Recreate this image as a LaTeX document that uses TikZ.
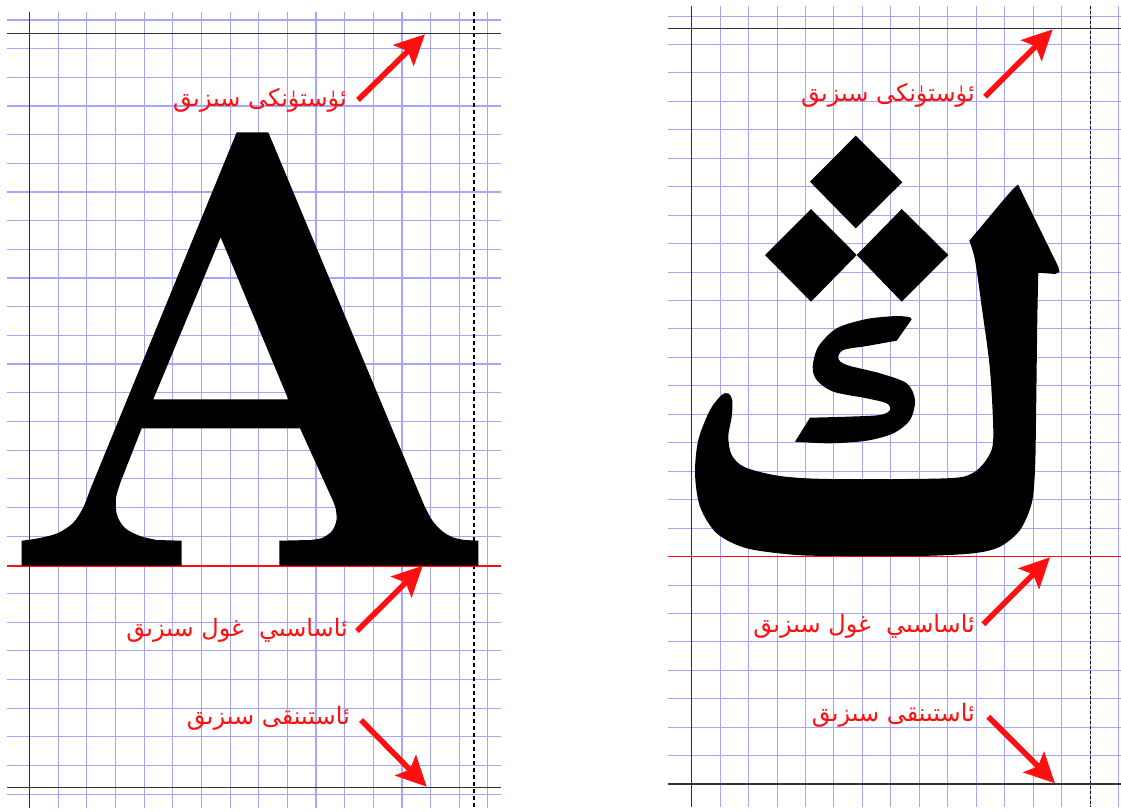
\documentclass[tikz,border=0pt]{standalone}
\usepackage{fontspec}
\usetikzlibrary{arrows.meta}
\TeXXeTstate=1
\newfontfamily\arabicfont[Script=Arabic]{DejaVu Sans}
\definecolor{gridblue}{RGB}{165,165,255}
\definecolor{lred}{RGB}{255,15,15}
\definecolor{guide}{RGB}{50,50,50}
\tikzset{
  gridline/.style={draw=gridblue, line width=1.1pt},
  guideline/.style={draw=guide, line width=1.3pt},
  baseline/.style={draw=lred, line width=1.4pt},
  dashguide/.style={draw=black, line width=1.6pt, dash pattern=on 4pt off 3pt},
  thindash/.style={draw=black, line width=0.9pt, dash pattern=on 3pt off 2pt},
  lab/.style={text=lred, font=\arabicfont\fontsize{24}{28}\selectfont, inner sep=0pt, anchor=east},
  redarrow/.style={draw=lred, line width=5.5pt, -{Stealth[length=30pt,width=29pt,inset=6pt]}},
  glyph/.style={fill=black, even odd rule}
}
\begin{document}
\begin{tikzpicture}[x=1pt,y=-1pt]
\useasboundingbox (0,0) rectangle (1121,811);
% ---------- left grid ----------
\foreach \k in {0,...,18,20,21,...,27} \draw[gridline] (7,{20+\k*28.67}) -- (501,{20+\k*28.67});
\foreach \k in {1,...,16} \draw[gridline] ({29.5+\k*28.65},12) -- ({29.5+\k*28.65},808);
\draw[guideline] (29.5,12) -- (29.5,808);
\draw[dashguide] (474,12) -- (474,808);
\draw[guideline] (7,33.7) -- (501,33.7);
\draw[guideline] (7,787.7) -- (501,787.7);
\draw[baseline] (7,566) -- (501,566);
% ---------- right grid ----------
\foreach \k in {0,...,18,20,21,...,26} \draw[gridline, line width=1pt] (668,{16+\k*28.45}) -- (1121,{16+\k*28.45});
\foreach \k in {1,...,15} \draw[gridline, line width=1pt] ({691.7+\k*28.45},6) -- ({691.7+\k*28.45},807);
\draw[guideline] (691.7,6) -- (691.7,807);
\draw[thindash] (1090,6) -- (1090,807);
\draw[guideline] (668,28.7) -- (1121,28.7);
\draw[guideline] (668,784) -- (1121,784);
\draw[baseline] (668,556.5) -- (1121,556.5);
% ---------- glyph A ----------
\fill[glyph] (236.7,132.3) -- (268.3,132.3) -- (423.3,503.3)
  -- plot[smooth] coordinates {(423.3,503.3) (432,520) (442,531) (453.3,537.5) (465,540)}
  -- (478.3,540.7) -- (478.3,565.5) -- (279.3,565.5) -- (279.3,540.7) -- (310,540)
  -- plot[smooth] coordinates {(310,540) (322,538) (332,531) (336.5,520) (335.5,508) (331.7,498)}
  -- (300,428.3) -- (141.7,428.3) -- (121,481)
  -- plot[smooth] coordinates {(121,481) (116,498) (117,515) (125,528) (140,536) (156.7,540)}
  -- (181.7,540.7) -- (181.7,565.5) -- (21.7,565.5) -- (21.7,540.7)
  -- plot[smooth] coordinates {(21.7,540.7) (40,538) (58,533) (73,523) (83,508) (90,490)}
  -- cycle
  (220.7,237.3) -- (288.3,399.3) -- (153.3,399.3) -- cycle;
% ---------- glyph ng ----------
\fill[glyph] (855.7,135.7) -- (902.3,182.3) -- (855.7,228.3) -- (810,181.7) -- cycle;
\fill[glyph] (811,209) -- (856.7,255) -- (811,301.7) -- (765,255) -- cycle;
\fill[glyph] (901.7,209) -- (948.3,255) -- (901.7,301.7) -- (856.7,255) -- cycle;
\fill[glyph] (1018,184.5) -- (1058.3,266.7) -- (1059.5,272) -- (1055,274) -- (1038.3,272.7)
  -- plot[smooth] coordinates {(1038.3,272.7) (1037.3,320) (1036,420) (1035,470) (1031.7,503.3)
     (1020,530) (1000,546.7) (973.3,553.3) (920,556) (846.7,556) (796.7,555) (746.7,548.3)
     (716.7,533.3) (700,506.7) (695,473.3) (698.3,440) (710,410) (721.7,395) (728.3,393.5)
     (732.3,400) (731.7,416.7) (728.3,436.7) (731.7,455) (745,467.3) (780,476) (830,479)
     (946.7,478.3) (973.3,472.7) (988.3,456.7) (993.3,436.7) (990,370) (981.7,306.7)
     (975,260) (969.3,240.7)}
  -- plot[smooth] coordinates {(969.3,240.7) (985,222) (1000,204) (1012,190)} -- cycle;
\fill[glyph] (911.7,319.3) -- (896.7,340.7)
  -- plot[smooth] coordinates {(896.7,340.7) (866.7,346) (843.3,350) (838.3,358.3) (846.7,365)
     (880,373.3) (906.7,383.3) (915,400) (910,420) (893.3,433.3) (866.7,440.7) (830,443.3) (795,441.7)}
  -- (810,417.7)
  -- plot[smooth] coordinates {(810,417.7) (846.7,416.7) (880,415) (890,410) (886.7,403.3)
     (866.7,398.3) (833.3,391.7) (816.7,380) (812.7,366.7) (818.3,346.7) (836.7,328.3)
     (866.7,319) (896.7,316) (910,317.3)}
  -- cycle;
% ---------- left labels ----------
\node[lab] (lt) at (347,100) {\beginR ئۈستۈنكى سىزىق\endR};
\node[lab] (lb) at (348,630) {\beginR ئاساسىي\ \ غول سىزىق\endR};
\node[lab] (ld) at (350,718) {\beginR ئاستىنقى سىزىق\endR};
\coordinate (lts) at (358,100); \coordinate (lte) at (425,34.3);
\coordinate (lbs) at (357,631); \coordinate (lbe) at (422.7,565.7);
\coordinate (lds) at (361,720); \coordinate (lde) at (426.7,786.7);
\draw[redarrow] (lts) -- (lte);
\draw[redarrow] (lbs) -- (lbe);
\draw[redarrow] (lds) -- (lde);
% ---------- right labels ----------
\node[lab] (rt) at (975,95) {\beginR ئۈستۈنكى سىزىق\endR};
\node[lab] (rb) at (975,626.7) {\beginR ئاساسىي\ \ غول سىزىق\endR};
\node[lab] (rd) at (975,715) {\beginR ئاستىنقى سىزىق\endR};
\coordinate (rts) at (985,96.7); \coordinate (rte) at (1052.7,29.3);
\coordinate (rbs) at (983.3,624.3); \coordinate (rbe) at (1050,557.3);
\coordinate (rds) at (988.3,716.7); \coordinate (rde) at (1055,783.3);
\draw[redarrow] (rts) -- (rte);
\draw[redarrow] (rbs) -- (rbe);
\draw[redarrow] (rds) -- (rde);
\end{tikzpicture}
\end{document}
